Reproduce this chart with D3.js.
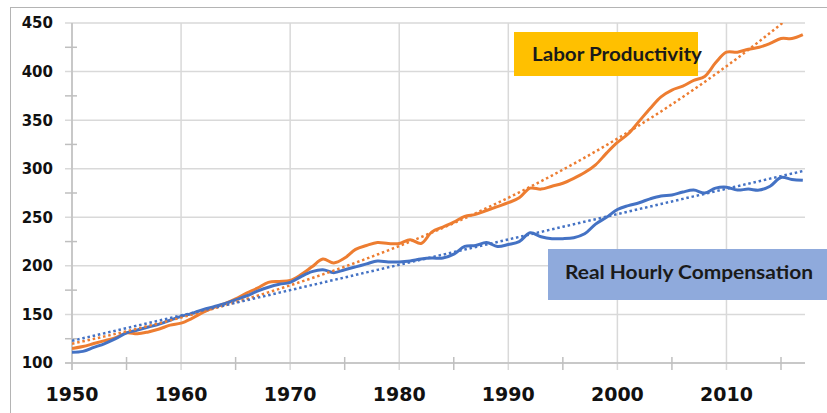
<!DOCTYPE html>
<html>
<head>
<meta charset="utf-8">
<script src="https://cdn.jsdelivr.net/npm/d3@7"></script>
<style>
  body { margin: 0; background: #fff; }
  svg { display: block; }
  .tick-label { font-family: "DejaVu Sans", sans-serif; font-weight: bold; fill: #111; }
  .series-label { font-family: Lato, sans-serif; font-weight: bold; fill: #1a1a1a; }
</style>
</head>
<body>
<div id="chart"></div>
<script>
/* Years on the horizontal axis. */
const years = d3.range(1950, 2018);

/* Labor productivity index (orange). */
const productivity = [
  115, 117, 120, 123, 126, 131, 130, 132, 135, 139,
  141, 146, 152, 157, 161, 166, 172, 177, 183, 184,
  185, 191, 199, 207, 203, 208, 217, 221, 224, 223,
  223, 227, 223, 235, 240, 245, 251, 253, 257, 261,
  265, 270, 280, 279, 282, 285, 290, 296, 304, 316,
  327, 336, 349, 362, 374, 381, 385, 391, 395, 409,
  420, 420, 423, 425, 429, 434, 434, 438
];

/* Real hourly compensation index (blue). */
const compensation = [
  111, 112, 116, 120, 125, 131, 134, 137, 140, 144,
  148, 151, 155, 158, 161, 165, 169, 174, 178, 181,
  183, 189, 194, 196, 193, 196, 199, 202, 205, 204,
  204, 205, 207, 208, 208, 212, 220, 221, 224, 220,
  222, 225, 234, 230, 228, 228, 229, 233, 243, 250,
  258, 262, 265, 269, 272, 273, 276, 278, 275, 280,
  281, 278, 279, 278, 282, 291, 289, 288
];

/* Axis ticks. */
const yTicks = [100, 150, 200, 250, 300, 350, 400, 450];
const yMinorTicks = [125, 175, 225, 275, 325, 375, 425];
const xTicks = [1950, 1960, 1970, 1980, 1990, 2000, 2010];
const xMinorTicks = [1955, 1965, 1975, 1985, 1995, 2005, 2015];

/* Chart parameters. */
const chartParams = {
  width: 827,
  height: 413,
  left: 72,
  right: 805,
  top: 23,
  bottom: 363
};

const colors = {
  productivity: "#ED7D31",
  compensation: "#4472C4",
  grid: "#d9d9d9",
  axis: "#bfbfbf"
};

const x = d3.scaleLinear()
  .domain([1950, 2017.2])
  .range([chartParams.left, chartParams.right]);

const y = d3.scaleLinear()
  .domain([100, 450])
  .range([chartParams.bottom, chartParams.top]);

const svg = d3.select("#chart")
  .append("svg")
  .attr("width", chartParams.width)
  .attr("height", chartParams.height);

/* Outer frame. */
svg.append("rect")
  .attr("x", 10.5)
  .attr("y", 7.5)
  .attr("width", 830)
  .attr("height", 420)
  .attr("fill", "none")
  .attr("stroke", "#b4b4b4");

svg.append("defs")
  .append("clipPath")
  .attr("id", "plotClip")
  .append("rect")
  .attr("x", chartParams.left)
  .attr("y", chartParams.top)
  .attr("width", chartParams.right - chartParams.left)
  .attr("height", chartParams.bottom - chartParams.top);

/* Horizontal gridlines. */
svg.append("g")
  .selectAll("line")
  .data(yTicks)
  .enter()
  .append("line")
  .attr("x1", chartParams.left - 7)
  .attr("x2", chartParams.right)
  .attr("y1", d => y(d))
  .attr("y2", d => y(d))
  .attr("stroke", colors.grid)
  .attr("stroke-width", 1.5);

/* Vertical gridlines. */
svg.append("g")
  .selectAll("line")
  .data(xTicks)
  .enter()
  .append("line")
  .attr("x1", d => x(d))
  .attr("x2", d => x(d))
  .attr("y1", chartParams.top)
  .attr("y2", chartParams.bottom + 7)
  .attr("stroke", colors.grid)
  .attr("stroke-width", 1.5);

/* Minor ticks. */
svg.append("g")
  .selectAll("line")
  .data(yMinorTicks)
  .enter()
  .append("line")
  .attr("x1", chartParams.left - 7)
  .attr("x2", chartParams.left + 5)
  .attr("y1", d => y(d))
  .attr("y2", d => y(d))
  .attr("stroke", colors.axis)
  .attr("stroke-width", 1.5);

svg.append("g")
  .selectAll("line")
  .data(xMinorTicks)
  .enter()
  .append("line")
  .attr("x1", d => x(d))
  .attr("x2", d => x(d))
  .attr("y1", chartParams.bottom - 6)
  .attr("y2", chartParams.bottom + 7)
  .attr("stroke", colors.axis)
  .attr("stroke-width", 1.5);

/* Axis lines. */
svg.append("line")
  .attr("x1", chartParams.left)
  .attr("x2", chartParams.left)
  .attr("y1", chartParams.top)
  .attr("y2", chartParams.bottom + 7)
  .attr("stroke", colors.axis)
  .attr("stroke-width", 1.5);
svg.append("line")
  .attr("x1", chartParams.left - 7)
  .attr("x2", chartParams.right)
  .attr("y1", chartParams.bottom)
  .attr("y2", chartParams.bottom)
  .attr("stroke", colors.axis)
  .attr("stroke-width", 1.5);

/* Tick labels. */
svg.append("g")
  .selectAll("text")
  .data(yTicks)
  .enter()
  .append("text")
  .attr("class", "tick-label")
  .attr("x", 53)
  .attr("y", d => y(d))
  .attr("dy", "0.36em")
  .attr("text-anchor", "end")
  .style("font-size", "15px")
  .text(d => d);

svg.append("g")
  .selectAll("text")
  .data(xTicks)
  .enter()
  .append("text")
  .attr("class", "tick-label")
  .attr("x", d => x(d))
  .attr("y", 401)
  .attr("text-anchor", "middle")
  .style("font-size", "19px")
  .text(d => d);

/* Data lines. */
const line = d3.line()
  .x((d, i) => x(years[i]))
  .y(d => y(d))
  .curve(d3.curveCatmullRom.alpha(0.5));

const plot = svg.append("g").attr("clip-path", "url(#plotClip)");

/* Trendlines: linear for compensation, exponential for productivity (as Excel does). */
function linearFit(xs, ys) {
  const mx = d3.mean(xs), my = d3.mean(ys);
  const b = d3.sum(xs, (v, i) => (v - mx) * (ys[i] - my)) / d3.sum(xs, v => (v - mx) * (v - mx));
  return t => my + b * (t - mx);
}
function expFit(xs, ys) {
  const lin = linearFit(xs, ys.map(Math.log));
  return t => Math.exp(lin(t));
}

const compTrend = linearFit(years, compensation);
const prodTrend = expFit(years, productivity);

const trendLine = d3.line()
  .x(d => x(d[0]))
  .y(d => y(d[1]));

plot.append("path")
  .attr("d", line(productivity))
  .attr("fill", "none")
  .attr("stroke", colors.productivity)
  .attr("stroke-width", 3)
  .attr("stroke-linejoin", "round");

plot.append("path")
  .attr("d", line(compensation))
  .attr("fill", "none")
  .attr("stroke", colors.compensation)
  .attr("stroke-width", 3)
  .attr("stroke-linejoin", "round");

plot.append("path")
  .attr("d", trendLine(years.map(t => [t, prodTrend(t)])))
  .attr("fill", "none")
  .attr("stroke", colors.productivity)
  .attr("stroke-width", 2.5)
  .attr("stroke-dasharray", "2.5,2.8");

plot.append("path")
  .attr("d", trendLine(years.map(t => [t, compTrend(t)])))
  .attr("fill", "none")
  .attr("stroke", colors.compensation)
  .attr("stroke-width", 2.5)
  .attr("stroke-dasharray", "2.5,2.8");

/* Series labels. */
svg.append("rect")
  .attr("x", 514)
  .attr("y", 32)
  .attr("width", 184)
  .attr("height", 44)
  .attr("fill", "#FFC000");
svg.append("text")
  .attr("class", "series-label")
  .attr("x", 532)
  .attr("y", 61)
  .attr("textLength", 170)
  .attr("lengthAdjust", "spacingAndGlyphs")
  .style("font-size", "19px")
  .text("Labor Productivity");

svg.append("rect")
  .attr("x", 548)
  .attr("y", 249)
  .attr("width", 290)
  .attr("height", 51)
  .attr("fill", "#8FAADC");
svg.append("text")
  .attr("class", "series-label")
  .attr("x", 565)
  .attr("y", 279)
  .attr("textLength", 248)
  .attr("lengthAdjust", "spacingAndGlyphs")
  .style("font-size", "19px")
  .text("Real Hourly Compensation");
</script>
</body>
</html>
